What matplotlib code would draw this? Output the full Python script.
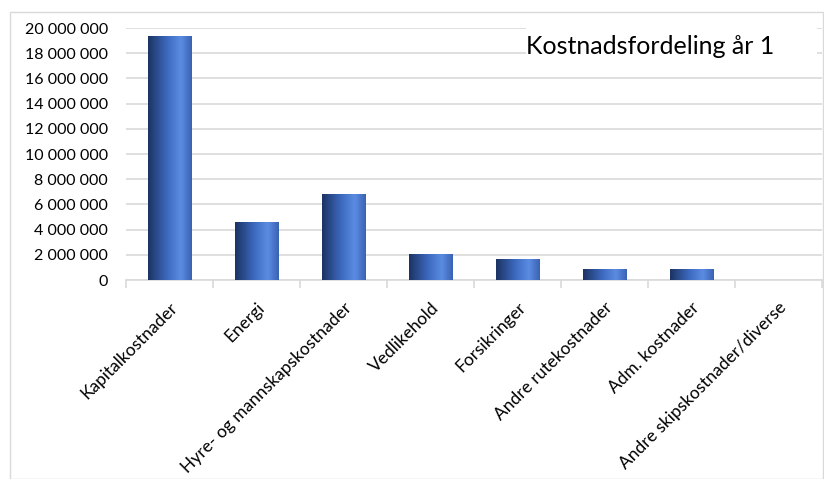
import matplotlib.pyplot as plt
import numpy as np
from matplotlib.colors import LinearSegmentedColormap
from matplotlib.patches import Rectangle

categories = ['Kapitalkostnader', 'Energi', 'Hyre- og mannskapskostnader', 'Vedlikehold',
              'Forsikringer', 'Andre rutekostnader', 'Adm. kostnader',
              'Andre skipskostnader/diverse']
values = [19400000, 4600000, 6800000, 2100000, 1650000, 850000, 900000, 0]
y_ticks = list(range(0, 20000001, 2000000))
title = 'Kostnadsfordeling år 1'

plt.rcParams['font.family'] = ['Lato', 'DejaVu Sans']

fig = plt.figure(figsize=(8.24, 4.79), dpi=100)
ax = fig.add_axes([126 / 824, 1 - 280 / 479, (822 - 126) / 824, (280 - 28) / 479])

x = np.arange(len(categories))
bars = ax.bar(x, values, width=0.5, color='none', edgecolor='none', zorder=3)

# horizontal shading: dark on the left, light towards the right, a bit darker at the edge
grad_cmap = LinearSegmentedColormap.from_list(
    'bar', [(0.0, '#1b3362'), (0.45, '#3e6bc2'), (0.75, '#5b8ce2'), (1.0, '#3a62b2')])
grad = np.linspace(0, 1, 256).reshape(1, -1)
for b in bars:
    if b.get_height() <= 0:
        continue
    x0, w, h = b.get_x(), b.get_width(), b.get_height()
    im = ax.imshow(grad, cmap=grad_cmap, aspect='auto', extent=(x0, x0 + w, 0, h),
                   zorder=3, interpolation='bilinear')
    im.set_clip_path(b)

ax.set_xlim(-0.5, len(categories) - 0.5)
ax.set_ylim(0, 20000000)
ax.set_yticks(y_ticks)
ax.set_yticklabels([f'{v:,}'.replace(',', ' ') for v in y_ticks], fontsize=11.5)
ax.yaxis.grid(True, color='#d9d9d9', lw=1.2, zorder=0)
ax.set_axisbelow(True)
ax.tick_params(axis='y', length=0, pad=13)

for s in ['top', 'right', 'left']:
    ax.spines[s].set_visible(False)
ax.spines['bottom'].set_color('#d9d9d9')
ax.spines['bottom'].set_linewidth(1.2)

ax.set_xticks(x)
ax.set_xticklabels(categories, rotation=45, ha='right', rotation_mode='anchor', fontsize=12.5)
ax.tick_params(axis='x', length=0, pad=14)
ax.set_xticks(np.arange(len(categories) + 1) - 0.5, minor=True)
ax.tick_params(axis='x', which='minor', length=6, color='#d9d9d9', width=1.2)

# title area sits over the gridlines in the top right corner
ax.add_patch(Rectangle((0.575, 0.85), 0.418, 0.18, transform=ax.transAxes,
                       facecolor='white', edgecolor='none', zorder=4, clip_on=False))
ax.text(0.932, 0.925, title, transform=ax.transAxes, ha='right', va='center', fontsize=18,
        zorder=5)

fig.patches.append(Rectangle((10 / 824, 0), 1 - 10 / 824 - 0.001, 1 - 12 / 479,
                             transform=fig.transFigure, fill=False, edgecolor='#d9d9d9', lw=1))

fig.savefig('out.png', dpi=100)
